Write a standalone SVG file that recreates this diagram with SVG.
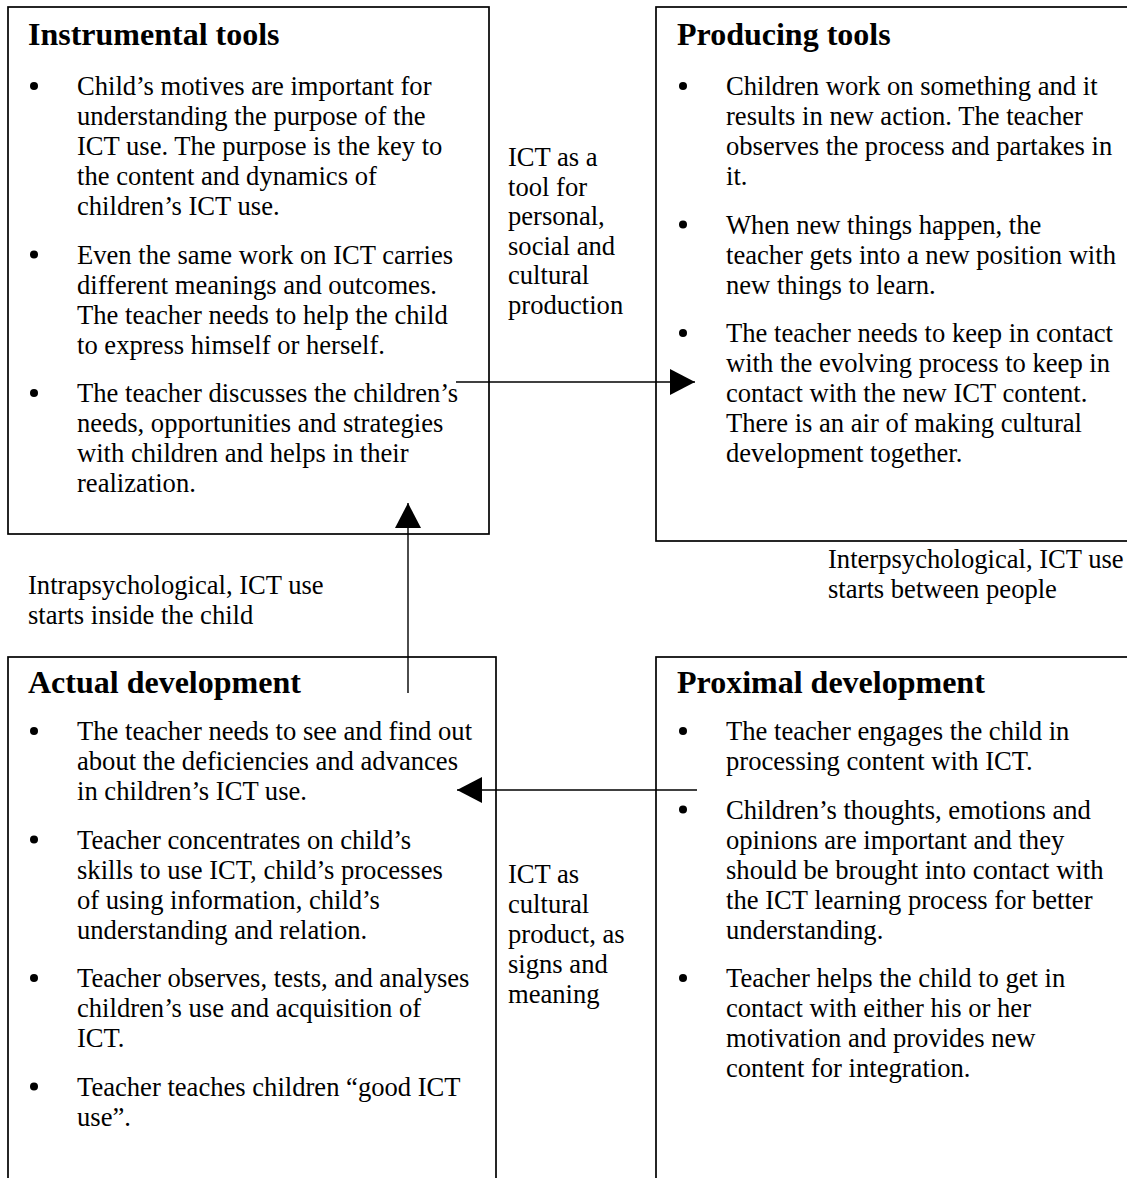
<svg xmlns="http://www.w3.org/2000/svg" width="1127" height="1178" viewBox="0 0 1127 1178">
<style>
.box{fill:#fff;stroke:#000;stroke-width:1.7}
.t{font-family:"Liberation Serif","Times New Roman",serif;font-size:26.6px;fill:#000}
.h{font-family:"Liberation Serif","Times New Roman",serif;font-size:32px;font-weight:bold;fill:#000}
.b{fill:#000}
.c{stroke:#000;stroke-width:1.4;fill:none}
</style>
<defs>
<marker id="ah" markerUnits="userSpaceOnUse" markerWidth="26" markerHeight="26" refX="25" refY="13" orient="auto">
<path d="M0,0 L25,13 L0,26 Z" fill="#000"/>
</marker>
</defs>
<rect width="1127" height="1178" fill="#fff"/>

<g id="instrumental-tools">
<rect class="box" x="8" y="7" width="481" height="527"/>
<text class="h" x="28" y="45">Instrumental tools</text>
<circle class="b" cx="34" cy="86" r="4"/>
<circle class="b" cx="34" cy="254.5" r="4"/>
<circle class="b" cx="34" cy="393" r="4"/>
<text class="t">
<tspan x="77" y="95">Child’s motives are important for</tspan>
<tspan x="77" y="125">understanding the purpose of the</tspan>
<tspan x="77" y="155">ICT use. The purpose is the key to</tspan>
<tspan x="77" y="185">the content and dynamics of</tspan>
<tspan x="77" y="215">children’s ICT use.</tspan>
<tspan x="77" y="263.5">Even the same work on ICT carries</tspan>
<tspan x="77" y="293.5">different meanings and outcomes.</tspan>
<tspan x="77" y="323.5">The teacher needs to help the child</tspan>
<tspan x="77" y="353.5">to express himself or herself.</tspan>
<tspan x="77" y="402">The teacher discusses the children’s</tspan>
<tspan x="77" y="432">needs, opportunities and strategies</tspan>
<tspan x="77" y="462">with children and helps in their</tspan>
<tspan x="77" y="492">realization.</tspan>
</text>
</g>

<g id="producing-tools">
<rect class="box" x="656" y="7" width="490" height="534"/>
<text class="h" x="677" y="45">Producing tools</text>
<circle class="b" cx="683" cy="86" r="4"/>
<circle class="b" cx="683" cy="224.5" r="4"/>
<circle class="b" cx="683" cy="333" r="4"/>
<text class="t">
<tspan x="726" y="95">Children work on something and it</tspan>
<tspan x="726" y="125">results in new action. The teacher</tspan>
<tspan x="726" y="155">observes the process and partakes in</tspan>
<tspan x="726" y="185">it.</tspan>
<tspan x="726" y="233.5">When new things happen, the</tspan>
<tspan x="726" y="263.5">teacher gets into a new position with</tspan>
<tspan x="726" y="293.5">new things to learn.</tspan>
<tspan x="726" y="342">The teacher needs to keep in contact</tspan>
<tspan x="726" y="372">with the evolving process to keep in</tspan>
<tspan x="726" y="402">contact with the new ICT content.</tspan>
<tspan x="726" y="432">There is an air of making cultural</tspan>
<tspan x="726" y="462">development together.</tspan>
</text>
</g>

<g id="actual-development">
<rect class="box" x="8" y="657" width="488" height="540"/>
<text class="h" x="28" y="693">Actual development</text>
<circle class="b" cx="34" cy="731" r="4"/>
<circle class="b" cx="34" cy="839.5" r="4"/>
<circle class="b" cx="34" cy="978" r="4"/>
<circle class="b" cx="34" cy="1086.5" r="4"/>
<text class="t">
<tspan x="77" y="740">The teacher needs to see and find out</tspan>
<tspan x="77" y="770">about the deficiencies and advances</tspan>
<tspan x="77" y="800">in children’s ICT use.</tspan>
<tspan x="77" y="848.5">Teacher concentrates on child’s</tspan>
<tspan x="77" y="878.5">skills to use ICT, child’s processes</tspan>
<tspan x="77" y="908.5">of using information, child’s</tspan>
<tspan x="77" y="938.5">understanding and relation.</tspan>
<tspan x="77" y="987">Teacher observes, tests, and analyses</tspan>
<tspan x="77" y="1017">children’s use and acquisition of</tspan>
<tspan x="77" y="1047">ICT.</tspan>
<tspan x="77" y="1095.5">Teacher teaches children “good ICT</tspan>
<tspan x="77" y="1125.5">use”.</tspan>
</text>
</g>

<g id="proximal-development">
<rect class="box" x="656" y="657" width="490" height="540"/>
<text class="h" x="677" y="693">Proximal development</text>
<circle class="b" cx="683" cy="731" r="4"/>
<circle class="b" cx="683" cy="809.5" r="4"/>
<circle class="b" cx="683" cy="978" r="4"/>
<text class="t">
<tspan x="726" y="740">The teacher engages the child in</tspan>
<tspan x="726" y="770">processing content with ICT.</tspan>
<tspan x="726" y="818.5">Children’s thoughts, emotions and</tspan>
<tspan x="726" y="848.5">opinions are important and they</tspan>
<tspan x="726" y="878.5">should be brought into contact with</tspan>
<tspan x="726" y="908.5">the ICT learning process for better</tspan>
<tspan x="726" y="938.5">understanding.</tspan>
<tspan x="726" y="987">Teacher helps the child to get in</tspan>
<tspan x="726" y="1017">contact with either his or her</tspan>
<tspan x="726" y="1047">motivation and provides new</tspan>
<tspan x="726" y="1077">content for integration.</tspan>
</text>
</g>

<g id="connectors">
<path class="c" d="M456,382 H695" marker-end="url(#ah)"/>
<path class="c" d="M697,790 H457" marker-end="url(#ah)"/>
<path class="c" d="M408,693 V503" marker-end="url(#ah)"/>
<text class="t">
<tspan x="508" y="166">ICT as a</tspan>
<tspan x="508" y="195.5">tool for</tspan>
<tspan x="508" y="225">personal,</tspan>
<tspan x="508" y="254.5">social and</tspan>
<tspan x="508" y="284">cultural</tspan>
<tspan x="508" y="313.5">production</tspan>
</text>
<text class="t">
<tspan x="508" y="883">ICT as</tspan>
<tspan x="508" y="913">cultural</tspan>
<tspan x="508" y="943">product, as</tspan>
<tspan x="508" y="973">signs and</tspan>
<tspan x="508" y="1003">meaning</tspan>
</text>
<text class="t">
<tspan x="28" y="594">Intrapsychological, ICT use</tspan>
<tspan x="28" y="624">starts inside the child</tspan>
</text>
<text class="t">
<tspan x="828" y="568">Interpsychological, ICT use</tspan>
<tspan x="828" y="598">starts between people</tspan>
</text>
</g>
</svg>
